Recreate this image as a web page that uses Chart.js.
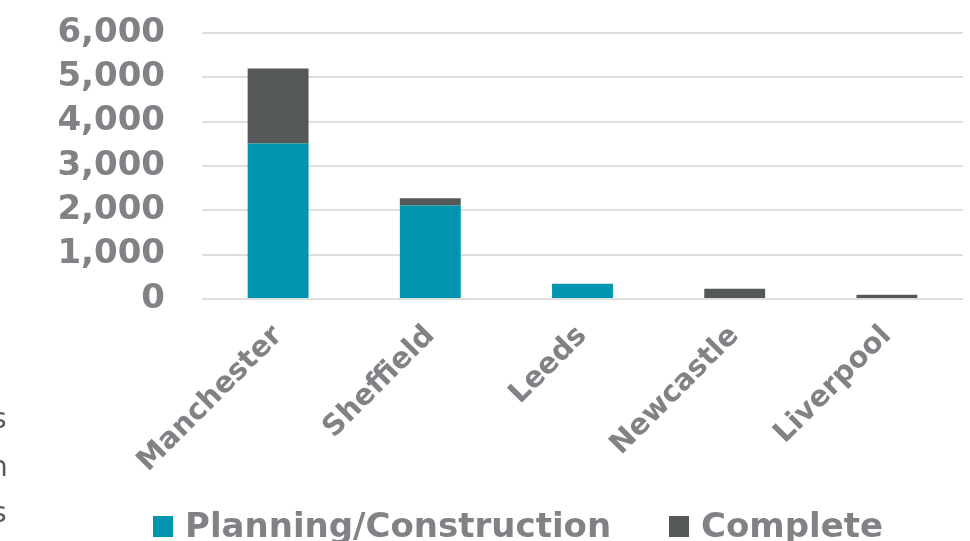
<!DOCTYPE html>
<html>
<head>
<meta charset="utf-8">
<script src="https://cdn.jsdelivr.net/npm/chart.js@4"></script>
<style>
  html, body { margin: 0; padding: 0; background: #fff; overflow: hidden; }
  #wrap { position: relative; width: 970px; height: 541px; overflow: hidden; }
  #legend { position: absolute; left: 0; top: 0; width: 970px; height: 541px; pointer-events: none;
            font-family: 'DejaVu Sans', sans-serif; font-weight: bold; font-size: 34px; color: #808285; }
  #legend .box { position: absolute; width: 20px; height: 21px; }
  #legend .txt { position: absolute; line-height: 40px; white-space: nowrap; }
  .cut { position: absolute; font-family: 'DejaVu Sans', sans-serif; font-size: 28px; color: #58595b; line-height: 30px; }
</style>
</head>
<body>
<div id="wrap">
  <canvas id="myBarChart"></canvas>
  <div id="legend"></div>
  <div class="cut" style="left:-8px; top:404px;">s</div>
  <div class="cut" style="left:-10px; top:452px;">n</div>
  <div class="cut" style="left:-8px; top:498px;">s</div>
</div>
<script>
// chart data
const cities = ['Manchester', 'Sheffield', 'Leeds', 'Newcastle', 'Liverpool'];
const planning = [3510, 2110, 345, 0, 0];
const complete = [1690, 165, 0, 232, 97];
const yTicks = [0, 1000, 2000, 3000, 4000, 5000, 6000];

const textGrey = '#808285';
const teal = '#0094AE';
const darkGrey = '#545859';

const ctx = document.getElementById('myBarChart').getContext('2d');
const barChart = new Chart(ctx, {
    type: 'bar',
    data: {
        labels: cities,
        datasets: [
            { label: 'Planning/Construction', data: planning, backgroundColor: teal, barPercentage: 0.4, categoryPercentage: 1 },
            { label: 'Complete', data: complete, backgroundColor: darkGrey, barPercentage: 0.4, categoryPercentage: 1 }
        ]
    },
    options: {
        responsive: true,
        maintainAspectRatio: false,
        animation: false,
        layout: { padding: { top: 33, right: 7, left: 0, bottom: 52 } },
        plugins: {
            tooltip: { enabled: false },
            legend: { display: false }
        },
        scales: {
            x: {
                stacked: true,
                grid: { display: false },
                border: { display: false },
                ticks: {
                    color: textGrey,
                    font: { family: 'DejaVu Sans', weight: 'bold', size: 29 },
                    minRotation: 45,
                    maxRotation: 45,
                    autoSkip: false,
                    padding: 12
                },
                afterFit(axis) {
                    axis.height = 190;
                    axis.paddingLeft = 0;
                    axis.paddingRight = 0;
                }
            },
            y: {
                stacked: true,
                min: 0,
                max: 6000,
                afterBuildTicks(axis) { axis.ticks = yTicks.map(v => ({ value: v })); },
                grid: { color: '#dedede', lineWidth: 2, drawTicks: false },
                border: { display: false },
                ticks: {
                    color: textGrey,
                    font: { family: 'DejaVu Sans', weight: 'bold', size: 34 },
                    padding: 37,
                    autoSkip: false,
                    callback: v => v.toLocaleString('en-US')
                },
                afterFit(axis) {
                    axis.width = 202;
                    // keep the label padding out of the layout, top line sits at the padding
                    axis.paddingTop = 0;
                    axis.paddingBottom = 0;
                }
            }
        }
    }
});

// legend below the chart, built from the datasets
const legendPos = [153, 669];
const legendEl = document.getElementById('legend');
barChart.data.datasets.forEach((ds, i) => {
    const box = document.createElement('div');
    box.className = 'box';
    box.style.left = legendPos[i] + 'px';
    box.style.top = '516px';
    box.style.background = ds.backgroundColor;
    legendEl.appendChild(box);
    const txt = document.createElement('div');
    txt.className = 'txt';
    txt.style.left = (legendPos[i] + 32) + 'px';
    txt.style.top = '505px';
    txt.textContent = ds.label;
    legendEl.appendChild(txt);
});
</script>
</body>
</html>
